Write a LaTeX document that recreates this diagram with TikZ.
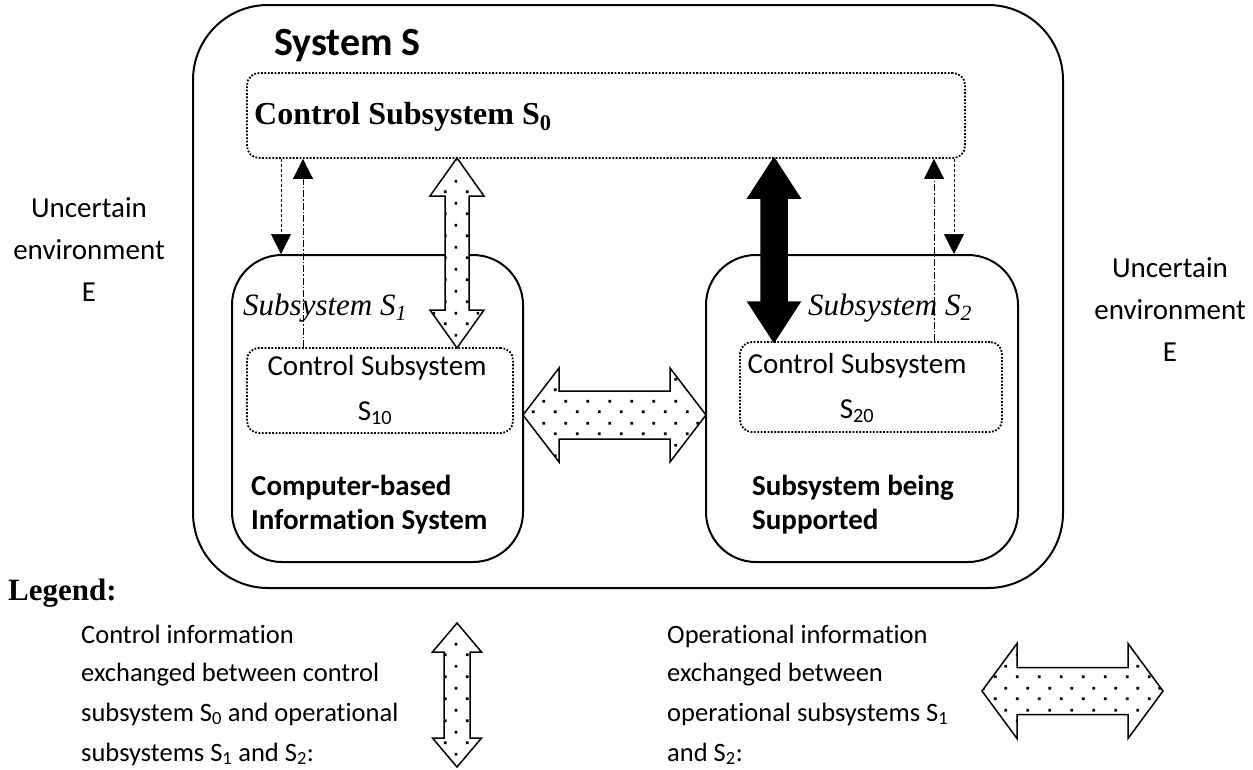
\documentclass[tikz,border=0pt]{standalone}
\usepackage{fontspec}
\setmainfont{Liberation Serif}
\newfontfamily\calfont[Ligatures=NoCommon]{Carlito}
\usetikzlibrary{arrows.meta,calc,patterns.meta}

\tikzdeclarepattern{
  name=sparsedots,
  type=uncolored,
  bottom left={(0pt,0pt)},
  top right={(22pt,22pt)},
  tile size={(22pt,22pt)},
  code={
    \pgfpathrectangle{\pgfpoint{4pt}{4pt}}{\pgfpoint{2.8pt}{2.8pt}}
    \pgfpathrectangle{\pgfpoint{15pt}{15pt}}{\pgfpoint{2.8pt}{2.8pt}}
    \pgfusepath{fill}
  }
}

% vertical double block arrow: style, cx, ytop, ybot, shaft half, head half, head length
\newcommand\vdblarrow[7]{%
  \path[#1] (#2,#3) -- ({#2+#6},{#3+#7}) -- ({#2+#5},{#3+#7}) -- ({#2+#5},{#4-#7}) -- ({#2+#6},{#4-#7}) -- (#2,#4)
    -- ({#2-#6},{#4-#7}) -- ({#2-#5},{#4-#7}) -- ({#2-#5},{#3+#7}) -- ({#2-#6},{#3+#7}) -- cycle;}
% horizontal double block arrow: style, cy, xleft, xright, shaft half, head half, head length
\newcommand\hdblarrow[7]{%
  \path[#1] (#3,#2) -- ({#3+#7},{#2-#6}) -- ({#3+#7},{#2-#5}) -- ({#4-#7},{#2-#5}) -- ({#4-#7},{#2-#6}) -- (#4,#2)
    -- ({#4-#7},{#2+#6}) -- ({#4-#7},{#2+#5}) -- ({#3+#7},{#2+#5}) -- ({#3+#7},{#2+#6}) -- cycle;}

\tikzset{
  box/.style={draw, line width=2pt, rounded corners=#1, inner sep=0pt},
  dotbox/.style={draw, line width=1.8pt, dash pattern=on 1.8pt off 1.6pt, rounded corners=12pt, inner sep=0pt},
  dashln/.style={line width=0.7pt, dash pattern=on 3pt off 2pt, -{Triangle[length=20pt,width=20pt]}},
  dashdotln/.style={line width=0.7pt, dash pattern=on 7pt off 2pt on 1.5pt off 2pt, -{Triangle[length=20pt,width=20pt]}},
  whitefill/.style={fill=white},
  dotarrow/.style={draw, line width=1.5pt, line join=miter, pattern=sparsedots, pattern color=black},
  blackarrow/.style={draw, line width=1.5pt, line join=miter, fill=black},
  body/.style={font=\calfont\fontsize{29}{35}\selectfont, inner sep=0pt},
  boldbody/.style={font=\calfont\bfseries\fontsize{29}{35}\selectfont, inner sep=0pt},
  legtext/.style={font=\calfont\fontsize{26.5}{31}\selectfont, inner sep=0pt, anchor=base west},
}

\begin{document}
\begin{tikzpicture}[x=1pt,y=-1pt]
\useasboundingbox (0,0) rectangle (1253,769);

% boxes
\node[box=75pt, minimum width=870pt, minimum height=583pt] (sys) at (628,296.5) {};
\node[dotbox, minimum width=718pt, minimum height=85pt] (s0) at (606,115.5) {};
\node[box=50pt, minimum width=291pt, minimum height=307pt] (s1) at (377.5,408.5) {};
\node[box=50pt, minimum width=312pt, minimum height=307pt] (s2) at (862,408.5) {};
\node[dotbox, minimum width=266pt, minimum height=85pt] (s10) at (380,390.5) {};
\node[dotbox, minimum width=262pt, minimum height=90pt] (s20) at (871,387) {};

% texts
\node[font=\calfont\bfseries\fontsize{40}{46}\selectfont, inner sep=0pt, anchor=base west] (tsys) at (274,55) {System S};
\node[font=\bfseries\fontsize{32}{38}\selectfont, inner sep=0pt, anchor=base west] (ts0) at (254,124) {Control Subsystem S\textsubscript{0}};
\node[font=\itshape\fontsize{31}{36}\selectfont, inner sep=0pt, anchor=base west] (ts1) at (243,315) {Subsystem S\textsubscript{1}};
\node[font=\itshape\fontsize{31}{36}\selectfont, inner sep=0pt, anchor=base west] (ts2) at (808,315) {Subsystem S\textsubscript{2}};
\node[body, anchor=base] (ts10a) at (377,375) {Control Subsystem};
\node[body, anchor=base] (ts10b) at (375,420) {S\textsubscript{10}};
\node[body, anchor=base] (ts20a) at (857,373) {Control Subsystem};
\node[body, anchor=base] (ts20b) at (857,418) {S\textsubscript{20}};
\node[boldbody, anchor=base west] (tcb1) at (251,495) {Computer-based};
\node[boldbody, anchor=base west] (tcb2) at (251,529) {Information System};
\node[boldbody, anchor=base west] (tsb1) at (752,495) {Subsystem being};
\node[boldbody, anchor=base west] (tsb2) at (752,529) {Supported};

\node[body, anchor=base] (envL1) at (89,217) {Uncertain};
\node[body, anchor=base] (envL2) at (89,259) {environment};
\node[body, anchor=base] (envL3) at (89,301) {E};
\node[body, anchor=base] (envR1) at (1170,277) {Uncertain};
\node[body, anchor=base] (envR2) at (1170,319) {environment};
\node[body, anchor=base] (envR3) at (1170,361) {E};

% thin arrows
\coordinate (xa) at (281,0);
\coordinate (xb) at (303,0);
\coordinate (xc) at (934,0);
\coordinate (xd) at (954,0);
\draw[dashln] (xa |- s0.south) -- (xa |- s1.north);
\draw[dashdotln] (xb |- s10.north) -- (xb |- s0.south);
\draw[dashdotln] (xc |- s20.north) -- (xc |- s0.south);
\draw[dashln] (xd |- s0.south) -- (xd |- s2.north);

% block arrows
\vdblarrow{whitefill}{457}{158}{348}{12}{27}{38}
\vdblarrow{dotarrow}{457}{158}{348}{12}{27}{38}
\vdblarrow{blackarrow}{774}{158}{342}{13}{26}{40}
\hdblarrow{whitefill}{415}{523}{706}{24}{47}{36}
\hdblarrow{dotarrow}{415}{523}{706}{24}{47}{36}

% legend
\node[font=\bfseries\fontsize{31}{36}\selectfont, inner sep=0pt, anchor=base west] (leg) at (8,600) {Legend:};
\node[legtext] (la1) at (81,643) {Control information};
\node[legtext] (la2) at (81,681) {exchanged between control};
\node[legtext] (la3) at (81,721) {subsystem S\textsubscript{0} and operational};
\node[legtext] (la4) at (81,761) {subsystems S\textsubscript{1} and S\textsubscript{2}:};
\node[legtext] (lb1) at (667,643) {Operational information};
\node[legtext] (lb2) at (667,681) {exchanged between};
\node[legtext] (lb3) at (667,721) {operational subsystems S\textsubscript{1}};
\node[legtext] (lb4) at (667,761) {and S\textsubscript{2}:};
\vdblarrow{dotarrow}{457}{623}{767}{13}{24.5}{29}
\hdblarrow{dotarrow}{691}{982}{1163}{23.5}{47.5}{35}
\end{tikzpicture}
\end{document}
